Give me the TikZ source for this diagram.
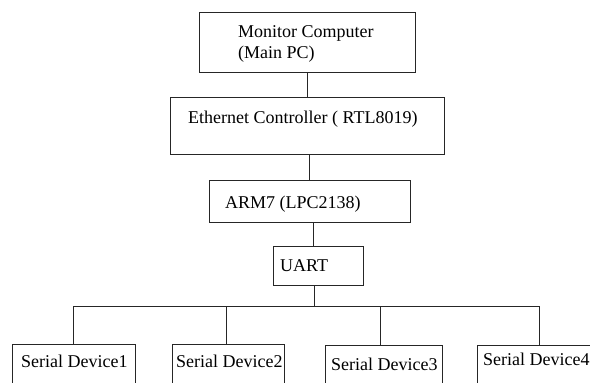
\documentclass[tikz,border=0pt]{standalone}
\usepackage{fontspec}
\setmainfont{Liberation Serif}
\begin{document}
\begin{tikzpicture}[x=1pt,y=-1pt,
  box/.style={draw=black!85,line width=0.8pt,inner sep=0pt,anchor=north west},
  lbl/.style={anchor=base west,inner sep=0pt,font=\fontsize{18}{21}\selectfont},
  wire/.style={draw=black!85,line width=0.8pt}]
\useasboundingbox (0,0) rectangle (590,383);
\clip (0,0) rectangle (590,383);
% boxes
\node[box,minimum width=216pt,minimum height=60pt] (mon) at (199,12) {};
\node[box,minimum width=274pt,minimum height=57pt] (eth) at (170,97) {};
\node[box,minimum width=201pt,minimum height=42pt] (arm) at (209,180) {};
\node[box,minimum width=90pt,minimum height=39pt] (uart) at (273,246) {};
\node[box,minimum width=123pt,minimum height=60pt] (sd1) at (12,344) {};
\node[box,minimum width=112pt,minimum height=60pt] (sd2) at (172,344) {};
\node[box,minimum width=117pt,minimum height=60pt] (sd3) at (325,345) {};
\node[box,minimum width=130pt,minimum height=60pt] (sd4) at (477,345) {};
% texts
\node[lbl] (tmon1) at (238,37) {Monitor Computer};
\node[lbl] (tmon2) at (238,58) {(Main PC)};
\node[lbl] (teth) at (188,123) {Ethernet Controller ( RTL8019)};
\node[lbl] (tarm) at (225,208) {ARM7 (LPC2138)};
\node[lbl] (tuart) at (280,271) {UART};
\node[lbl] (tsd1) at (21,367) {Serial Device1};
\node[lbl] (tsd2) at (176,367) {Serial Device2};
\node[lbl] (tsd3) at (331,370) {Serial Device3};
\node[lbl] (tsd4) at (483,365) {Serial Device4};
% connectors
\coordinate (busL) at (73,306);
\coordinate (busR) at (539,306);
\coordinate (busM) at (314,306);
\draw[wire] (mon.south) -- (eth.north);
\draw[wire] (eth.south -| 309,0) -- (arm.north -| 309,0);
\draw[wire] (arm.south -| 313,0) -- (uart.north -| 313,0);
\draw[wire] (uart.south -| busM) -- (busM);
\draw[wire] (busL) -- (busR);
\draw[wire] (busL) -- (sd1.north -| busL);
\draw[wire] (busL -| 226,0) -- (sd2.north -| 226,0);
\draw[wire] (busL -| 380,0) -- (sd3.north -| 380,0);
\draw[wire] (busR) -- (sd4.north -| busR);
\end{tikzpicture}
\end{document}
